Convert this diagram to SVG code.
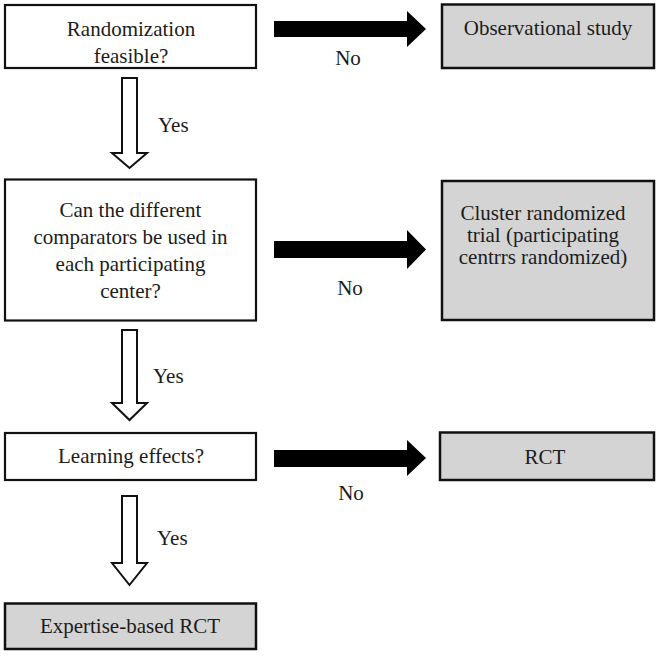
<svg xmlns="http://www.w3.org/2000/svg" width="661" height="657" viewBox="0 0 661 657">
<style>
.box{fill:#ffffff;stroke:#111;stroke-width:2.2}
.term{fill:#d4d4d4;stroke:#111;stroke-width:2.5}
.t{font-family:"Liberation Serif","Times New Roman",serif;font-size:21px;fill:#1c1c1c;text-anchor:middle}
.ts{font-family:"Liberation Serif","Times New Roman",serif;font-size:21px;fill:#1c1c1c}
.hollow{fill:#ffffff;stroke:#111;stroke-width:2;stroke-linejoin:miter}
.solid{fill:#000000;stroke:none}
</style>
<rect width="661" height="657" fill="#ffffff"/>
<g id="connectors">
<polygon class="hollow" points="122,78 137,78 137,153 147,153 129.5,168 112,153 122,153"/>
<polygon class="hollow" points="122,330 137,330 137,403 147,403 129.5,420 112,403 122,403"/>
<polygon class="hollow" points="122,496 137,496 137,563 147,563 129.5,585 112,563 122,563"/>
<polygon class="solid" points="274,21 407,21 407,11 426,29 407,47 407,37 274,37"/>
<polygon class="solid" points="274,241 407,241 407,230 426,249.5 407,269 407,258 274,258"/>
<polygon class="solid" points="274,450 407,450 407,440 426,458 407,476 407,467 274,467"/>
<text class="ts" x="158" y="132">Yes</text>
<text class="ts" x="153" y="383">Yes</text>
<text class="ts" x="157" y="545">Yes</text>
<text class="t" x="348" y="65">No</text>
<text class="t" x="350" y="295">No</text>
<text class="t" x="351" y="500">No</text>
</g>
<g id="randomization">
<rect class="box" x="5" y="5" width="251" height="63"/>
<text class="t" x="131" y="36">Randomization</text>
<text class="t" x="131" y="63">feasible?</text>
</g>
<g id="observational">
<rect class="term" x="442" y="4.5" width="212" height="63.5"/>
<text class="t" x="548" y="35">Observational study</text>
</g>
<g id="comparators">
<rect class="box" x="5" y="179.5" width="251" height="141"/>
<text class="t" x="130.5" y="217">Can the different</text>
<text class="t" x="130.5" y="244">comparators be used in</text>
<text class="t" x="130.5" y="271">each participating</text>
<text class="t" x="130.5" y="298">center?</text>
</g>
<g id="cluster">
<rect class="term" x="442" y="181" width="212" height="139"/>
<text class="t" x="543" y="220">Cluster randomized</text>
<text class="t" x="543" y="242">trial (participating</text>
<text class="t" x="543" y="264">centrrs randomized)</text>
</g>
<g id="learning">
<rect class="box" x="5" y="433" width="251" height="47"/>
<text class="t" x="131" y="463">Learning effects?</text>
</g>
<g id="rct">
<rect class="term" x="440" y="432.5" width="214" height="47.5"/>
<text class="t" x="545" y="464">RCT</text>
</g>
<g id="expertise">
<rect class="term" x="5" y="603.5" width="251" height="45.5"/>
<text class="t" x="130" y="633">Expertise-based RCT</text>
</g>
</svg>
